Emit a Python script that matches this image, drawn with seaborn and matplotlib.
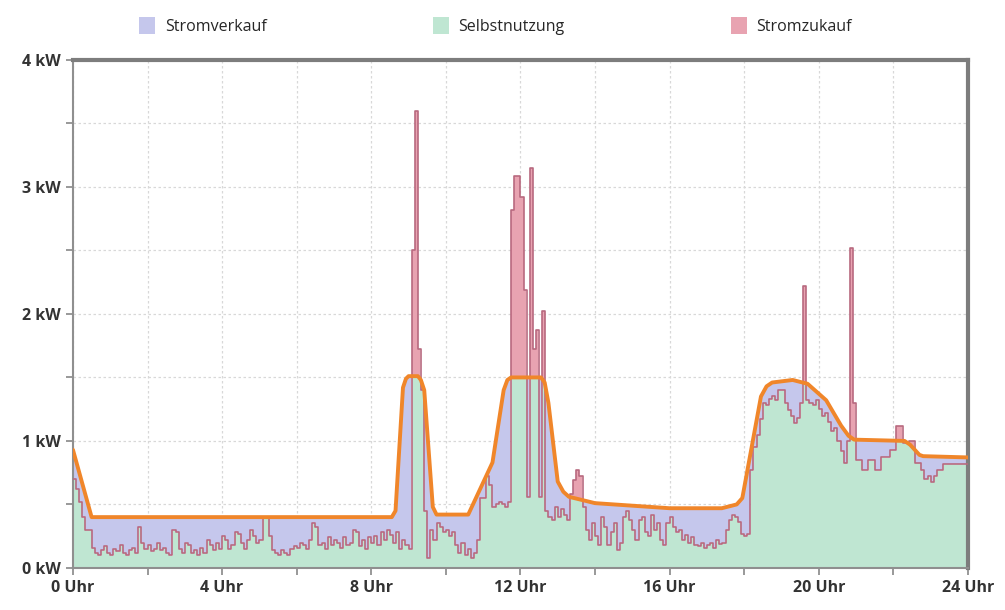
import numpy as np
import pandas as pd
import matplotlib
matplotlib.use("Agg")
import matplotlib.pyplot as plt
from matplotlib.patches import Patch
import seaborn as sns

# Erzeugung (orange Linie), Stützpunkte in Stunden / kW
gen_hours = [0, 0.5, 8.55, 8.65, 8.85, 8.93, 9.0, 9.25, 9.33, 9.42, 9.65, 9.75,
             10.6, 11.25, 11.55, 11.65, 11.75, 12.55, 12.65, 12.75, 13.0, 13.15, 13.3,
             14.0, 16.0, 17.4, 17.8, 17.95, 18.2, 18.45, 18.6, 18.75,
             19.3, 19.7, 20.2, 20.6, 20.8, 20.95, 22.3, 22.45, 22.7, 22.8, 24]
gen_kw = [0.93, 0.40, 0.40, 0.45, 1.42, 1.49, 1.51, 1.51, 1.48, 1.40, 0.48, 0.42,
          0.42, 0.83, 1.40, 1.48, 1.50, 1.50, 1.46, 1.30, 0.68, 0.60, 0.56,
          0.51, 0.47, 0.47, 0.50, 0.55, 0.95, 1.35, 1.43, 1.46,
          1.48, 1.45, 1.32, 1.12, 1.04, 1.01, 1.00, 0.97, 0.89, 0.88, 0.87]

# Verbrauch in 5-Minuten-Schritten, eine Zeile pro Stunde
cons_rows = [
    [0.70, 0.62, 0.52, 0.40, 0.30, 0.30, 0.16, 0.12, 0.10, 0.14, 0.17, 0.12],  # 0
    [0.10, 0.15, 0.13, 0.18, 0.12, 0.10, 0.14, 0.16, 0.12, 0.32, 0.20, 0.15],  # 1
    [0.18, 0.13, 0.15, 0.20, 0.14, 0.16, 0.12, 0.10, 0.30, 0.28, 0.15, 0.12],  # 2
    [0.20, 0.18, 0.12, 0.14, 0.10, 0.16, 0.12, 0.22, 0.18, 0.14, 0.20, 0.15],  # 3
    [0.25, 0.22, 0.15, 0.18, 0.28, 0.27, 0.20, 0.15, 0.22, 0.30, 0.25, 0.20],  # 4
    [0.22, 0.39, 0.39, 0.25, 0.14, 0.12, 0.10, 0.14, 0.12, 0.10, 0.15, 0.17],  # 5
    [0.16, 0.20, 0.18, 0.15, 0.22, 0.35, 0.32, 0.18, 0.20, 0.15, 0.24, 0.18],  # 6
    [0.22, 0.20, 0.16, 0.24, 0.18, 0.20, 0.30, 0.28, 0.17, 0.22, 0.15, 0.24],  # 7
    [0.20, 0.25, 0.18, 0.28, 0.22, 0.30, 0.26, 0.20, 0.28, 0.15, 0.22, 0.18],  # 8
    [0.15, 2.50, 3.60, 1.72, 1.40, 0.45, 0.08, 0.30, 0.22, 0.35, 0.32, 0.28],  # 9
    [0.30, 0.25, 0.28, 0.18, 0.12, 0.20, 0.10, 0.15, 0.08, 0.12, 0.22, 0.55],  # 10
    [0.55, 0.72, 0.65, 0.48, 0.50, 0.52, 0.50, 0.48, 0.52, 2.82, 3.09, 3.09],  # 11
    [2.92, 2.19, 0.56, 3.15, 1.72, 1.87, 0.56, 2.02, 0.45, 0.40, 0.38, 0.48],  # 12
    [0.40, 0.46, 0.42, 0.38, 0.58, 0.69, 0.77, 0.72, 0.48, 0.30, 0.22, 0.35],  # 13
    [0.25, 0.18, 0.40, 0.32, 0.18, 0.28, 0.35, 0.14, 0.20, 0.40, 0.45, 0.38],  # 14
    [0.30, 0.22, 0.38, 0.40, 0.28, 0.25, 0.42, 0.30, 0.35, 0.22, 0.18, 0.35],  # 15
    [0.40, 0.32, 0.28, 0.30, 0.22, 0.26, 0.20, 0.24, 0.18, 0.17, 0.20, 0.16],  # 16
    [0.18, 0.20, 0.16, 0.22, 0.19, 0.20, 0.30, 0.38, 0.42, 0.40, 0.36, 0.27],  # 17
    [0.25, 0.27, 0.77, 0.95, 1.05, 1.17, 1.30, 1.28, 1.33, 1.35, 1.32, 1.40],  # 18
    [1.40, 1.30, 1.24, 1.20, 1.14, 1.18, 1.30, 2.22, 1.32, 1.30, 1.28, 1.32],  # 19
    [1.25, 1.20, 1.22, 1.15, 1.08, 1.10, 1.00, 0.92, 0.83, 1.00, 2.52, 1.30],  # 20
    [0.85, 0.85, 0.77, 0.77, 0.85, 0.85, 0.77, 0.77, 0.87, 0.87, 0.87, 0.93],  # 21
    [0.93, 1.12, 1.12, 0.98, 0.98, 1.00, 1.00, 0.83, 0.83, 0.77, 0.70, 0.72],  # 22
    [0.68, 0.72, 0.77, 0.77, 0.82, 0.82, 0.82, 0.82, 0.82, 0.82, 0.82, 0.82],  # 23
]

legend_labels = ["Stromverkauf", "Selbstnutzung", "Stromzukauf"]
x_ticks = [0, 4, 8, 12, 16, 20, 24]
x_labels = [f"{h} Uhr" for h in x_ticks]
y_ticks = [0, 1, 2, 3, 4]
y_labels = [f"{v} kW" for v in y_ticks]

c_sell = "#c5c7ec"
c_self = "#bfe6d2"
c_buy = "#e8a3b1"
c_cons = "#b8697f"
c_gen = "#f0862a"

cons = np.array(cons_rows).flatten()
t_cons = np.arange(len(cons) + 1) * 5 / 60
cons_df = pd.DataFrame({"t": t_cons, "kW": np.append(cons, cons[-1])})
gen_df = pd.DataFrame({"t": gen_hours, "kW": gen_kw})

# feines Raster für die Flächen
t_fine = np.arange(0, 24 * 60 + 1) / 60
idx = np.minimum(np.arange(len(t_fine)) // 5, len(cons) - 1)
c_fine = cons[idx]
g_fine = np.interp(t_fine, gen_hours, gen_kw)

sns.set_theme(style="white")
plt.rcParams["font.family"] = ["Open Sans", "DejaVu Sans"]

fig = plt.figure(figsize=(10.05, 6.1), dpi=100)
ax = fig.add_axes([0.0726, 0.069, 0.8905, 0.8327])

ax.fill_between(t_fine, 0, np.minimum(c_fine, g_fine), step="post", color=c_self, lw=0, zorder=1)
ax.fill_between(t_fine, c_fine, g_fine, where=g_fine >= c_fine, step="post", color=c_sell, lw=0, zorder=1)
ax.fill_between(t_fine, g_fine, c_fine, where=c_fine >= g_fine, step="post", color=c_buy, lw=0, zorder=1)

sns.lineplot(data=cons_df, x="t", y="kW", ax=ax, drawstyle="steps-post", color=c_cons, lw=1.2, zorder=3)
sns.lineplot(data=gen_df, x="t", y="kW", ax=ax, color=c_gen, lw=2.8, zorder=4)

ax.set_xlim(0, 24)
ax.set_ylim(0, 4)
ax.set_xticks(x_ticks)
ax.set_xticklabels(x_labels)
ax.set_xticks(np.arange(2, 24, 4), minor=True)
ax.set_yticks(y_ticks)
ax.set_yticklabels(y_labels)
ax.set_yticks(np.arange(0.5, 4, 1), minor=True)
ax.set_xlabel("")
ax.set_ylabel("")

ax.grid(True, which="both", color="#d8d8d8", ls=(0, (2, 2)), lw=0.9, zorder=0)
ax.set_axisbelow(True)
ax.tick_params(axis="both", which="both", direction="out", length=5, width=1.2, color="#888888",
               labelsize=11.5, labelcolor="#333333", bottom=True, left=True)
for lab in ax.get_xticklabels() + ax.get_yticklabels():
    lab.set_fontweight("bold")

for s in ["left", "bottom"]:
    ax.spines[s].set_color("#8f8f8f")
    ax.spines[s].set_linewidth(1.5)
for s in ["top", "right"]:
    ax.spines[s].set_color("#7d7d7d")
    ax.spines[s].set_linewidth(3)

handles = [Patch(facecolor=c, edgecolor="none") for c in (c_sell, c_self, c_buy)]
fig.legend(handles, legend_labels, loc="center", bbox_to_anchor=(0.493, 0.957), ncol=3,
           frameon=False, fontsize=11.5, handlelength=1.0, handleheight=1.2,
           handletextpad=0.6, columnspacing=10.4)

fig.savefig("out.png", dpi=100)
